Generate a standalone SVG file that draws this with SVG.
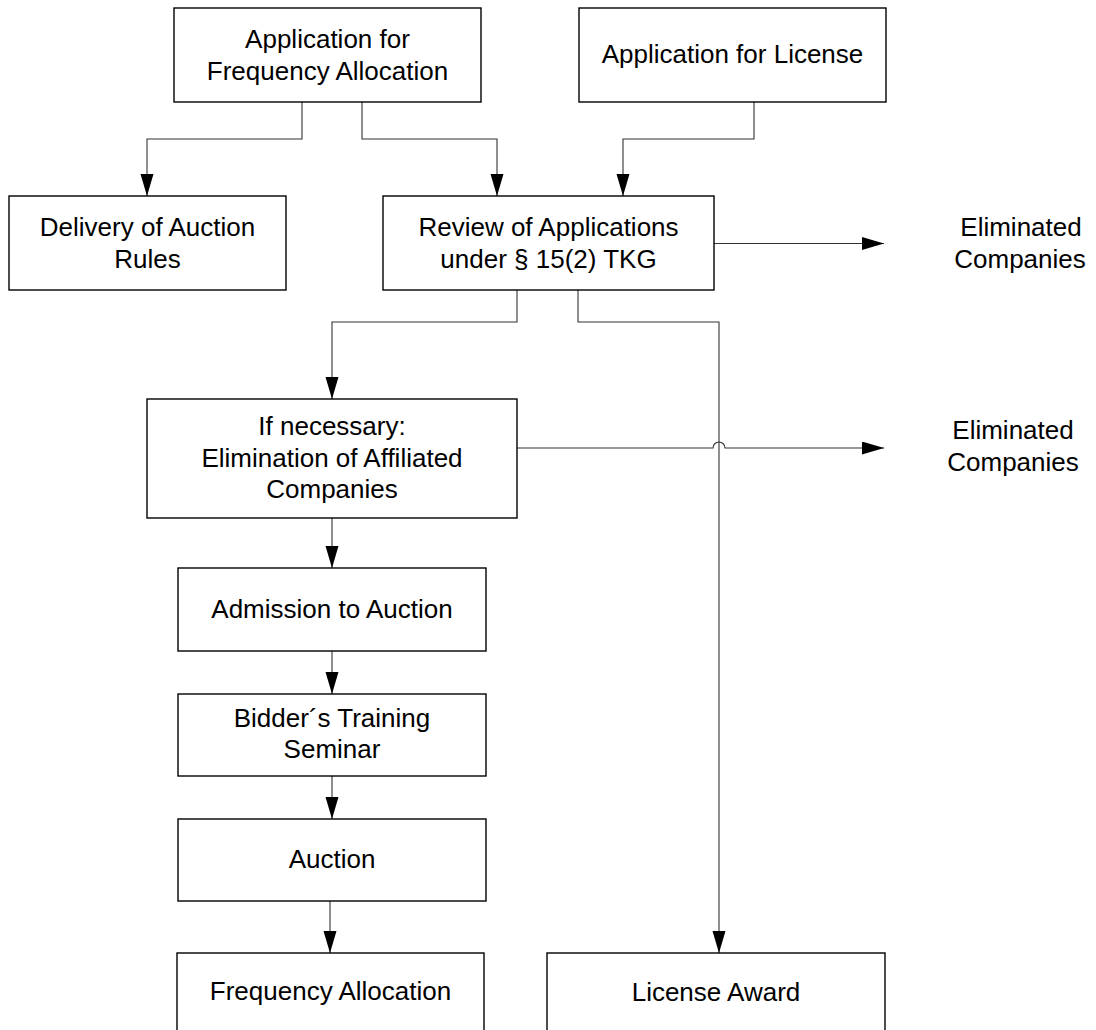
<svg xmlns="http://www.w3.org/2000/svg" width="1096" height="1030" viewBox="0 0 1096 1030">
<style>
.box{fill:#fff;stroke:#000;stroke-width:1.4}
.t{font-family:"Liberation Sans",Arial,sans-serif;font-size:26px;fill:#000;text-anchor:middle}
.c{fill:none;stroke:#333;stroke-width:1.1}
</style>
<defs>
<marker id="ah" markerUnits="userSpaceOnUse" markerWidth="22" markerHeight="14" refX="22" refY="6.5" orient="auto">
<path d="M0,0 L22,6.5 L0,13 z" fill="#000"/>
</marker>
</defs>
<rect width="1096" height="1030" fill="#fff"/>
<g id="connectors">
<path class="c" d="M302,102 V139 H147 V196" marker-end="url(#ah)"/>
<path class="c" d="M362,102 V139 H497 V196" marker-end="url(#ah)"/>
<path class="c" d="M754,102 V139 H623 V196" marker-end="url(#ah)"/>
<path class="c" d="M714,243.5 H884" marker-end="url(#ah)"/>
<path class="c" d="M517,290 V322 H332 V399" marker-end="url(#ah)"/>
<path class="c" d="M578,290 V322 H719 V953" marker-end="url(#ah)"/>
<path class="c" d="M517,448 H713 A6,6 0 0 1 725,448 H884" marker-end="url(#ah)"/>
<path class="c" d="M332,518 V568" marker-end="url(#ah)"/>
<path class="c" d="M332,651 V694" marker-end="url(#ah)"/>
<path class="c" d="M332,776 V819" marker-end="url(#ah)"/>
<path class="c" d="M330,898 V953" marker-end="url(#ah)"/>
</g>
<g id="app-freq">
<rect class="box" x="174" y="8" width="307" height="94"/>
<text class="t" x="327.5" y="48">Application for</text>
<text class="t" x="327.5" y="80">Frequency Allocation</text>
</g>
<g id="app-license">
<rect class="box" x="579" y="8" width="307" height="94"/>
<text class="t" x="732.5" y="63">Application for License</text>
</g>
<g id="delivery">
<rect class="box" x="9" y="196" width="277" height="94"/>
<text class="t" x="147.5" y="236">Delivery of Auction</text>
<text class="t" x="147.5" y="268">Rules</text>
</g>
<g id="review">
<rect class="box" x="383" y="196" width="331" height="94"/>
<text class="t" x="548.5" y="236">Review of Applications</text>
<text class="t" x="548.5" y="268">under § 15(2) TKG</text>
</g>
<g id="elim1">
<text class="t" x="1021" y="236">Eliminated</text>
<text class="t" x="1020" y="268">Companies</text>
</g>
<g id="if-necessary">
<rect class="box" x="147" y="399" width="370" height="119"/>
<text class="t" x="332" y="435">If necessary:</text>
<text class="t" x="332" y="467">Elimination of Affiliated</text>
<text class="t" x="332" y="498">Companies</text>
</g>
<g id="elim2">
<text class="t" x="1013" y="439">Eliminated</text>
<text class="t" x="1013" y="471">Companies</text>
</g>
<g id="admission">
<rect class="box" x="178" y="568" width="308" height="83"/>
<text class="t" x="332" y="618">Admission to Auction</text>
</g>
<g id="seminar">
<rect class="box" x="178" y="694" width="308" height="82"/>
<text class="t" x="332" y="727">Bidder´s Training</text>
<text class="t" x="332" y="758">Seminar</text>
</g>
<g id="auction">
<rect class="box" x="178" y="819" width="308" height="82"/>
<text class="t" x="332" y="868">Auction</text>
</g>
<g id="freq-alloc">
<rect class="box" x="177" y="953" width="307" height="100"/>
<text class="t" x="330.5" y="1000">Frequency Allocation</text>
</g>
<g id="license-award">
<rect class="box" x="547" y="953" width="338" height="100"/>
<text class="t" x="716" y="1001">License Award</text>
</g>
</svg>
